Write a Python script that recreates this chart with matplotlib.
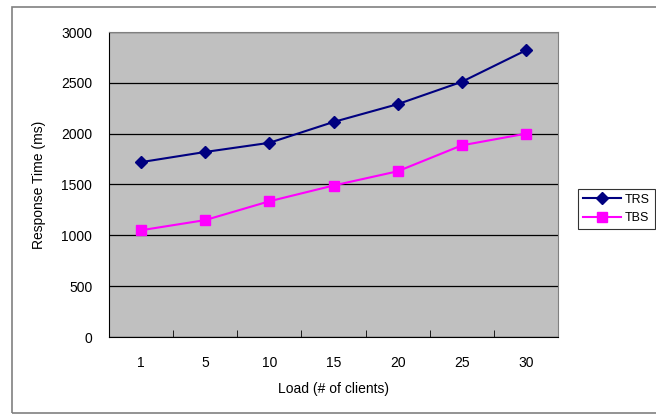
import matplotlib
matplotlib.use("Agg")
import matplotlib.pyplot as plt
from matplotlib.patches import Rectangle

loads = ["1", "5", "10", "15", "20", "25", "30"]
trs = [1720, 1820, 1910, 2115, 2290, 2510, 2820]
tbs = [1050, 1150, 1335, 1490, 1630, 1885, 2000]

plt.rcParams['font.family'] = ['Liberation Sans', 'DejaVu Sans']

fig = plt.figure(figsize=(6.56, 4.15), dpi=100)
# outer chart frame
fig.patches.append(Rectangle((12 / 656, 2 / 415), 1.0, 406 / 415, transform=fig.transFigure,
                             fill=False, edgecolor="#808080", linewidth=1.2))

ax = fig.add_axes([109 / 656, 78 / 415, 449 / 656, 305 / 415])
ax.set_facecolor("#c0c0c0")

x = list(range(len(loads)))
ax.plot(x, trs, color="#000080", marker="D", markersize=6.5, linewidth=1.5, label="TRS")
ax.plot(x, tbs, color="#ff00ff", marker="s", markersize=6.5, linewidth=1.5, label="TBS")

ax.set_xlim(-0.5, len(loads) - 0.5)
ax.set_ylim(0, 3000)
ax.set_yticks(range(0, 3001, 500))
ax.yaxis.grid(True, color="black", linewidth=0.9)
ax.set_axisbelow(True)

ax.set_xticks(x)
ax.set_xticklabels(loads)
ax.tick_params(axis="x", length=0, pad=14, labelsize=10)
ax.set_xticks([i + 0.5 for i in range(len(loads) - 1)], minor=True)
ax.tick_params(axis="x", which="minor", length=5, direction="in", color="black")
ax.tick_params(axis="y", length=0, pad=12, labelsize=10)

for side in ["top", "right"]:
    ax.spines[side].set_color("#808080")
for side in ["left", "bottom"]:
    ax.spines[side].set_color("black")

ax.set_xlabel("Load (# of clients)", fontsize=10, labelpad=8)
ax.set_ylabel("Response Time (ms)", fontsize=10, labelpad=11)

leg = ax.legend(loc="center left", bbox_to_anchor=(572 / 656, 206 / 415), bbox_transform=fig.transFigure,
                frameon=True, fancybox=False, edgecolor="black", fontsize=9,
                handlelength=3, borderpad=0.4, labelspacing=0.5, handletextpad=0.3)
leg.get_frame().set_linewidth(0.8)

fig.savefig("out.png", dpi=100)
